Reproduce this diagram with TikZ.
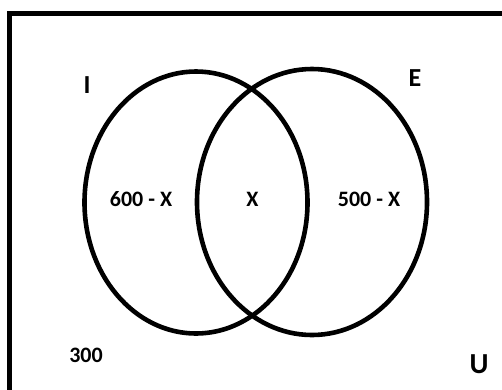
\documentclass[tikz,border=0pt]{standalone}
\usepackage{fontspec}
\setmainfont{Carlito}
\begin{document}
\begin{tikzpicture}[x=1pt,y=-1pt,
  setline/.style={line width=4.6pt,black},
  lbl/.style={inner sep=0pt,anchor=center,font=\bfseries\fontsize{22}{22}\selectfont},
  biglbl/.style={inner sep=0pt,anchor=center,font=\bfseries\fontsize{26}{26}\selectfont}]
\useasboundingbox (0,0) rectangle (502,389);
\clip (0,0) rectangle (502,389);
\fill[white] (0,0) rectangle (502,389);
% universe box (continues beyond the picture)
\draw[line width=5pt] (9.5,420) -- (9.5,13.5) -- (540,13.5);
% sets
\draw[setline] (196,202.5) ellipse [x radius=111.5pt, y radius=131pt];
\draw[setline] (312,202) ellipse [x radius=115pt, y radius=133pt];
% labels
\node[biglbl] (setI) at (87,85) {I};
\node[biglbl] (setE) at (415,78) {E};
\node[lbl] (onlyI) at (141,199) {600 - X};
\node[lbl] (both) at (252.5,199) {X};
\node[lbl] (onlyE) at (369,199) {500 - X};
\node[lbl] (none) at (86,355) {300};
\node[inner sep=0pt,anchor=center,font=\bfseries\fontsize{29}{29}\selectfont] (univ) at (479,364.5) {U};
\end{tikzpicture}
\end{document}
